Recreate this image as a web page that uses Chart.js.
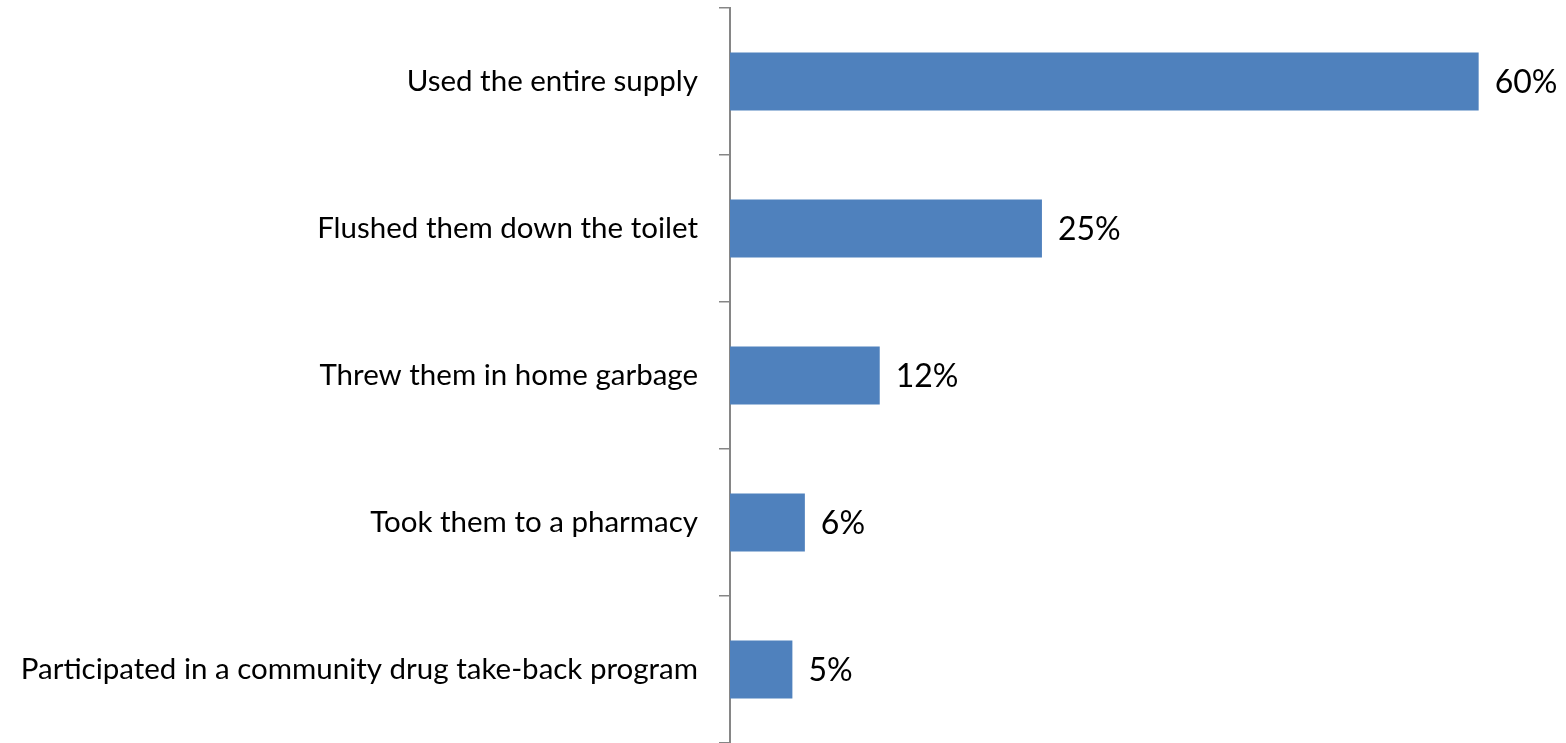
<!DOCTYPE html>
<html>
<head>
<meta charset="utf-8">
<script src="https://cdn.jsdelivr.net/npm/chart.js@4/dist/chart.umd.min.js"></script>
<style>
html,body{margin:0;padding:0;background:#fff;overflow:hidden;}
#wrap{width:1566px;height:743px;position:relative;}
</style>
</head>
<body>
<div id="wrap"><canvas id="c" width="1566" height="743"></canvas></div>
<script>
const categories = [
  "Used the entire supply",
  "Flushed them down the toilet",
  "Threw them in home garbage",
  "Took them to a pharmacy",
  "Participated in a community drug take-back program"
];
const values = [60, 25, 12, 6, 5];
const valueLabels = ["60%", "25%", "12%", "6%", "5%"];

const FONT = "Lato, 'Open Sans', sans-serif";

const valueLabelPlugin = {
  id: 'valueLabels',
  afterDatasetsDraw(chart) {
    const ctx = chart.ctx;
    const meta = chart.getDatasetMeta(0);
    ctx.save();
    ctx.font = "32px " + FONT;
    ctx.fillStyle = "#000";
    ctx.textAlign = "left";
    ctx.textBaseline = "middle";
    meta.data.forEach((bar, i) => {
      ctx.fillText(valueLabels[i], bar.x + 16, bar.y + 1);
    });
    ctx.restore();
  }
};

new Chart(document.getElementById('c'), {
  type: 'bar',
  data: {
    labels: categories,
    datasets: [{
      data: values,
      backgroundColor: '#4F81BD',
      borderWidth: 0,
      barPercentage: 0.393,
      categoryPercentage: 1.0
    }]
  },
  options: {
    indexAxis: 'y',
    responsive: false,
    animation: false,
    devicePixelRatio: 1,
    layout: { padding: { top: 8, right: 0, bottom: -2, left: 0 } },
    plugins: { legend: { display: false }, tooltip: { enabled: false } },
    scales: {
      x: {
        display: false,
        min: 0,
        max: 67
      },
      y: {
        afterFit(scale) {
          scale.width = 730;
          scale.paddingTop = 0;
          scale.paddingBottom = 0;
        },
        grid: {
          display: true,
          drawOnChartArea: false,
          drawTicks: true,
          tickLength: 11,
          color: '#868686',
          lineWidth: 1.5,
          offset: true
        },
        border: { display: true, color: '#868686', width: 2 },
        ticks: {
          color: '#000',
          padding: 21,
          font: { family: FONT, size: 29.5 }
        }
      }
    }
  },
  plugins: [valueLabelPlugin]
});
</script>
</body>
</html>
